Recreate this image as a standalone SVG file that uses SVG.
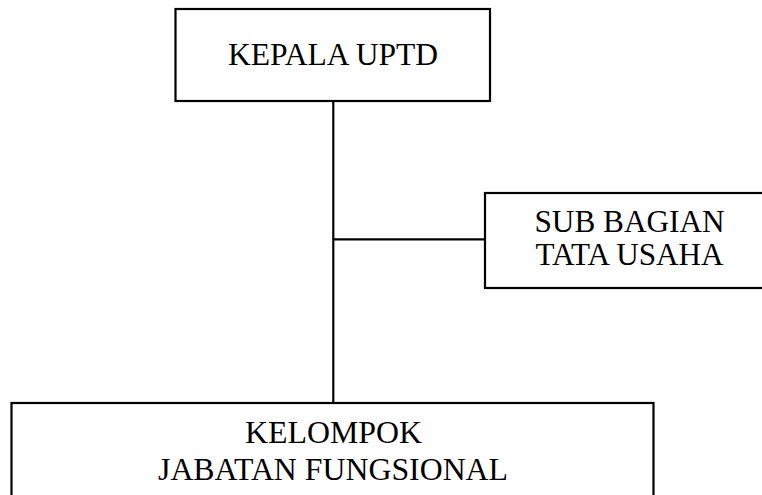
<svg xmlns="http://www.w3.org/2000/svg" width="762" height="495" viewBox="0 0 762 495">
<style>
.box{fill:#fff;stroke:#000;stroke-width:2.2}
.line{stroke:#000;stroke-width:2.2;fill:none}
.t{font-family:"Liberation Serif","Times New Roman",serif;font-size:31px;fill:#000;text-anchor:middle}
</style>
<rect width="762" height="495" fill="#fff"/>
<g id="connectors">
<line class="line" x1="333.3" y1="101" x2="333.3" y2="403"/>
<line class="line" x1="333.3" y1="239.3" x2="485" y2="239.3"/>
</g>
<g id="kepala">
<rect class="box" x="175.5" y="9" width="314.5" height="92"/>
<text class="t" x="333" y="65" textLength="210" lengthAdjust="spacingAndGlyphs">KEPALA UPTD</text>
</g>
<g id="subbagian">
<rect class="box" x="485" y="193" width="290" height="95"/>
<text class="t" x="629.5" y="231.5" textLength="190" lengthAdjust="spacingAndGlyphs">SUB BAGIAN</text>
<text class="t" x="629.5" y="265" textLength="188" lengthAdjust="spacingAndGlyphs">TATA USAHA</text>
</g>
<g id="kelompok">
<rect class="box" x="11.5" y="403" width="642" height="110"/>
<text class="t" x="333.5" y="443" textLength="177" lengthAdjust="spacingAndGlyphs">KELOMPOK</text>
<text class="t" x="333" y="480" textLength="350" lengthAdjust="spacingAndGlyphs">JABATAN FUNGSIONAL</text>
</g>
</svg>
